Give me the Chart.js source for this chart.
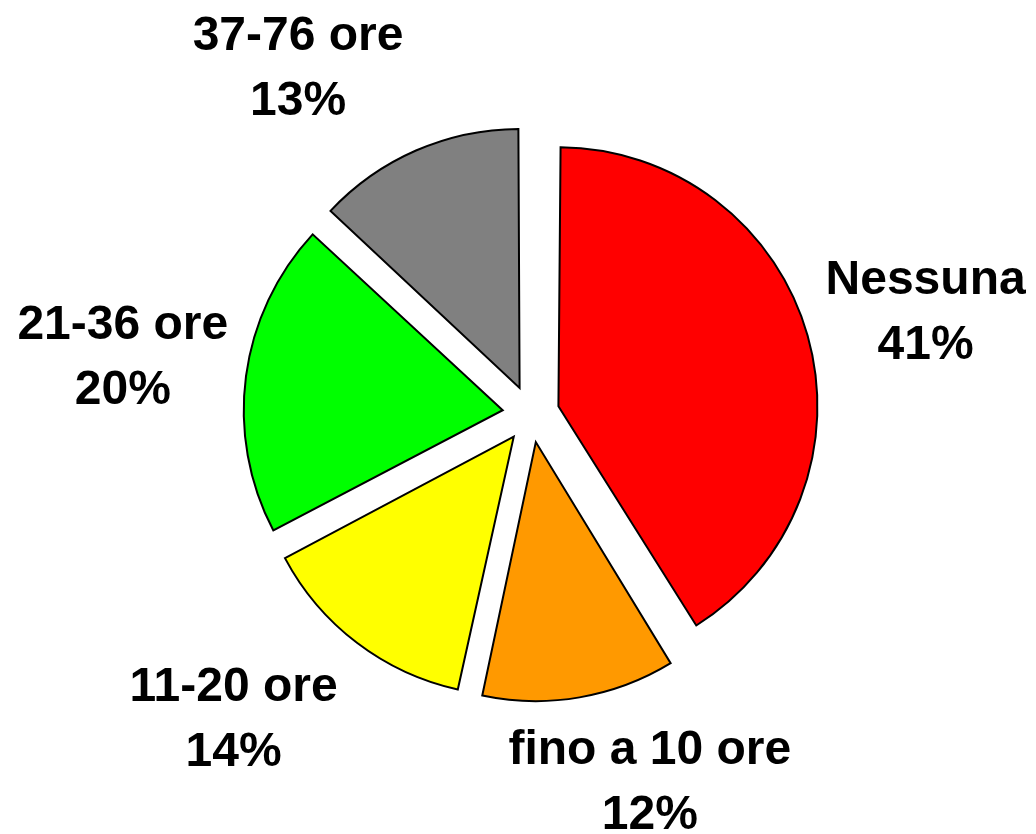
<!DOCTYPE html>
<html>
<head>
<meta charset="utf-8">
<script src="https://cdn.jsdelivr.net/npm/chart.js@4/dist/chart.umd.min.js"></script>
<style>
  html, body { margin: 0; padding: 0; background: #fff; }
  canvas { display: block; }
</style>
</head>
<body>
<canvas id="pie" width="1036" height="834"></canvas>
<script>
const categories = ['Nessuna', 'fino a 10 ore', '11-20 ore', '21-36 ore', '37-76 ore'];
const shares = [41.2, 12.2, 13.9, 19.6, 13.1];
const sliceColors = ['#FF0000', '#FF9900', '#FFFF00', '#00FF00', '#808080'];

const PIE_RADIUS = 259;
const EXPLODE = 28.5;   // px every slice is pulled out
const LABEL_FONT = 'bold 48px "Liberation Sans", Arial, sans-serif';
const LINE_GAP = 65;
// small hand nudges so the labels sit where the original ones were dragged
const labelNudge = [[-9, -4], [41, 1], [-41, 8], [13, -11], [-63, -10]];

const total = shares.reduce((a, b) => a + b, 0);

// Chart.js grows an offset arc by offset/4 * (1 - sin(circ)); take that back so all slices keep one radius
const keepRadius = {
    id: 'keepRadius',
    afterDatasetsUpdate(chart) {
        chart.getDatasetMeta(0).data.forEach(arc => {
            const circ = arc.endAngle - arc.startAngle;
            const fix = 1 - Math.sin(Math.min(Math.PI, circ));
            arc.outerRadius = PIE_RADIUS - EXPLODE * fix;
        });
    }
};

const outsideLabels = {
    id: 'outsideLabels',
    afterDraw(chart) {
        const c = chart.ctx;
        const arcs = chart.getDatasetMeta(0).data;
        c.save();
        c.font = LABEL_FONT;
        c.fillStyle = '#000';
        c.textAlign = 'center';
        c.textBaseline = 'alphabetic';
        arcs.forEach((arc, i) => {
            const mid = (arc.startAngle + arc.endAngle) / 2;
            const dx = Math.cos(mid), dy = Math.sin(mid);
            const pct = Math.round(shares[i] / total * 100) + '%';
            const w = Math.max(c.measureText(categories[i]).width, c.measureText(pct).width);
            const h = 100;
            const ra = PIE_RADIUS + EXPLODE + 32;
            const cx = arc.x + dx * ra + dx * w / 2 + labelNudge[i][0];
            const cy = arc.y + dy * ra + dy * h / 2 + labelNudge[i][1];
            c.fillText(categories[i], cx, cy - 15);
            c.fillText(pct, cx, cy - 15 + LINE_GAP);
        });
        c.restore();
    }
};

new Chart(document.getElementById('pie').getContext('2d'), {
    type: 'pie',
    data: {
        labels: categories,
        datasets: [{
            data: shares,
            backgroundColor: sliceColors,
            borderColor: '#000',
            borderWidth: 2,
            borderJoinStyle: 'miter',
            offset: EXPLODE * 4
        }]
    },
    options: {
        responsive: false,
        animation: false,
        radius: PIE_RADIUS,
        layout: { padding: { left: 26, right: 0, top: 0, bottom: 6 } },
        plugins: {
            legend: { display: false },
            tooltip: { enabled: false }
        }
    },
    plugins: [keepRadius, outsideLabels]
});
</script>
</body>
</html>
